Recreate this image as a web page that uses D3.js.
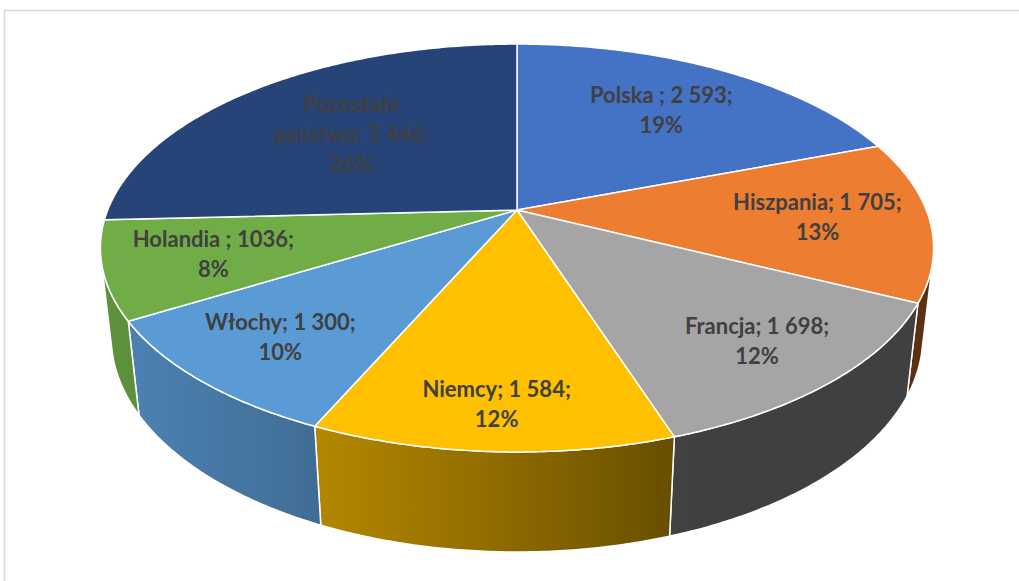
<!DOCTYPE html>
<html>
<head>
<meta charset="utf-8">
<script src="https://cdn.jsdelivr.net/npm/d3@7"></script>
<style>
  html, body { margin: 0; padding: 0; background: #ffffff; }
  svg { display: block; }
</style>
</head>
<body>
<svg id="chart" width="1019" height="581"></svg>
<script>
// ---- data ----
const categories = ["Polska ", "Hiszpania", "Francja", "Niemcy", "Włochy", "Holandia ", "Pozostałe\npaństwa"];
const values = [2593, 1705, 1698, 1584, 1300, 1036, 3446];
const valueLabels = ["2 593", "1 705", "1 698", "1 584", "1 300", "1036", "3 446"];
const percentLabels = ["19%", "13%", "12%", "12%", "10%", "8%", "26%"];
const colors = ["#4472C4", "#ED7D31", "#A5A5A5", "#FFC000", "#5B9BD5", "#70AD47", "#264478"];

// ---- layout (3D perspective camera) ----
const CX = 517, CY = 210;        // projected pie centre
const FOCAL = 1926;              // focal length (px)
const DIST = 4.706;              // camera distance (pie radii)
const SIN_A = 0.481, COS_A = 0.8767; // camera elevation
const THICK = 0.2514;            // pie thickness (pie radii)
const LABEL_R = [0.68, 0.73, 0.79, 0.835, 0.775, 0.744, 0.6];
const LIGHT_DIR = 250 * Math.PI / 180, AMBIENT = 0.39, DIFFUSE = 0.45;

function project(theta, r, y) {
  const X = r * Math.sin(theta), Z = r * Math.cos(theta);
  const depth = DIST - y * SIN_A + Z * COS_A;
  const up = y * COS_A + Z * SIN_A;
  return [CX + FOCAL * X / depth, CY - FOCAL * up / depth];
}
function arcPts(a0, a1, y) {
  const n = Math.max(2, Math.ceil(Math.abs(a1 - a0) / (Math.PI / 360)));
  return d3.range(n + 1).map(i => project(a0 + (a1 - a0) * i / n, 1, y));
}
function shade(hex, theta) {
  const f = AMBIENT + DIFFUSE * Math.max(0, Math.cos(theta - LIGHT_DIR));
  const c = d3.rgb(hex);
  return d3.rgb(c.r * f, c.g * f, c.b * f).formatHex();
}

const svg = d3.select("#chart");
svg.append("rect").attr("x", 0).attr("y", 0).attr("width", 1019).attr("height", 581).attr("fill", "#fff");
svg.append("rect").attr("x", 4.5).attr("y", 10.5).attr("width", 1300).attr("height", 800)
  .attr("fill", "#fff").attr("stroke", "#D9D9D9").attr("stroke-width", 1.5);

const pie = d3.pie().sort(null).startAngle(0).endAngle(2 * Math.PI);
const arcs = pie(values);
const line = d3.line();
const defs = svg.append("defs");

// silhouette of the side wall
const thetaS = Math.acos(-1 / (DIST * COS_A));

// side walls
const wallG = svg.append("g");
arcs.forEach((a, i) => {
  const w0 = Math.max(a.startAngle, thetaS), w1 = Math.min(a.endAngle, 2 * Math.PI - thetaS);
  if (w0 >= w1) return;
  const top = arcPts(w0, w1, 0);
  const bot = arcPts(w1, w0, -THICK);
  const x1 = project(w0, 1, 0)[0], x2 = project(w1, 1, 0)[0];
  const gid = "wall" + i;
  const g = defs.append("linearGradient").attr("id", gid).attr("gradientUnits", "userSpaceOnUse")
    .attr("x1", x1).attr("y1", 0).attr("x2", x2).attr("y2", 0);
  const ns = 12;
  d3.range(ns + 1).forEach(k => {
    const t = w0 + (w1 - w0) * k / ns;
    const x = project(t, 1, 0)[0];
    const off = Math.abs(x2 - x1) < 0.5 ? k / ns : (x - x1) / (x2 - x1);
    g.append("stop").attr("offset", Math.min(1, Math.max(0, off))).attr("stop-color", shade(colors[i], t));
  });
  wallG.append("path").attr("d", line(top.concat(bot)) + "Z")
    .attr("fill", `url(#${gid})`).attr("stroke", "#fff").attr("stroke-width", 1.5)
    .attr("stroke-linejoin", "round");
});

// top faces
const topG = svg.append("g");
arcs.forEach((a, i) => {
  const pts = [project(0, 0, 0)].concat(arcPts(a.startAngle, a.endAngle, 0));
  topG.append("path").attr("d", line(pts) + "Z")
    .attr("fill", colors[i]).attr("stroke", "#fff").attr("stroke-width", 1.5)
    .attr("stroke-linejoin", "round");
});

// labels
const labG = svg.append("g")
  .attr("font-family", "Lato, 'Open Sans', sans-serif").attr("font-weight", "bold")
  .attr("font-size", 22).attr("fill", "#404040").attr("text-anchor", "middle");
const LINE_H = 30, CAP = 15.5;
arcs.forEach((a, i) => {
  const mid = (a.startAngle + a.endAngle) / 2;
  const [px, py] = project(mid, LABEL_R[i], 0);
  const lines = (categories[i] + "; " + valueLabels[i] + ";").split("\n").concat([percentLabels[i]]);
  const y0 = py - (lines.length - 1) * LINE_H / 2 + CAP / 2;
  const t = labG.append("text").attr("x", px).attr("y", y0);
  lines.forEach((ln, k) => {
    t.append("tspan").attr("x", px).attr("y", y0 + k * LINE_H).text(ln);
  });
});
</script>
</body>
</html>
